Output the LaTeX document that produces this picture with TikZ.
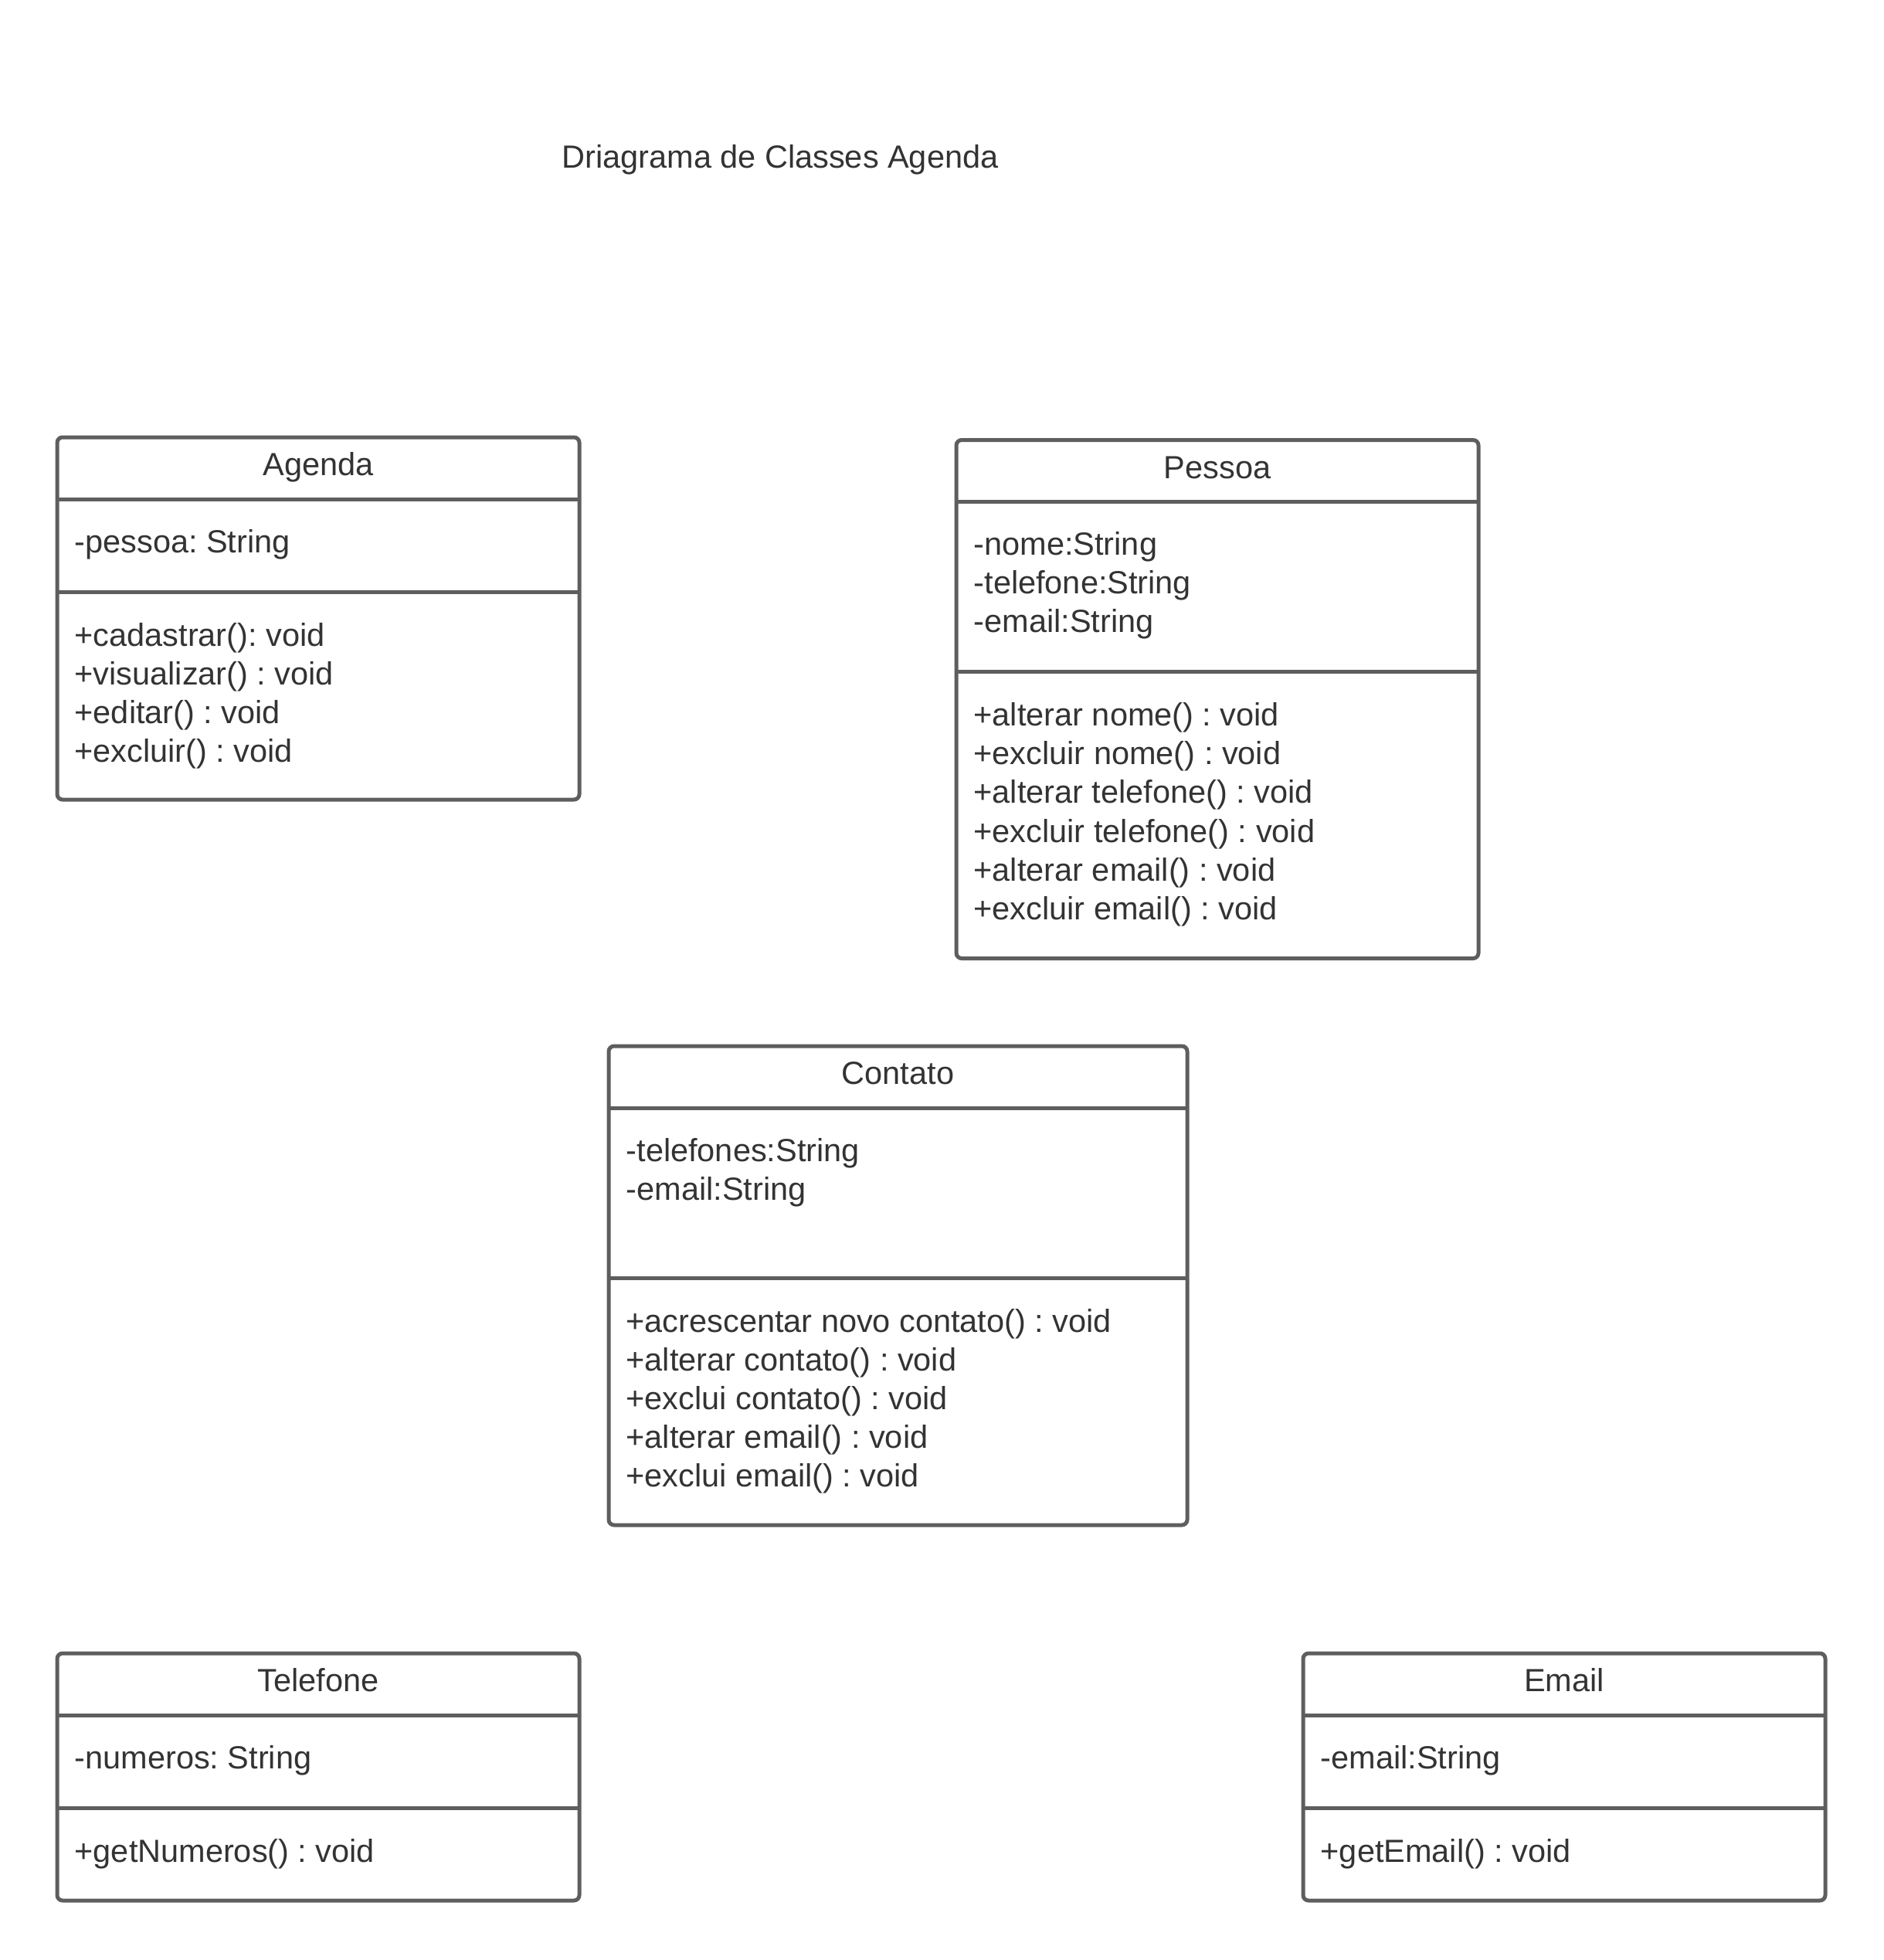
\documentclass[tikz,border=0pt]{standalone}
\usepackage{fontspec}
\setmainfont{Liberation Sans}
\usepackage{xcolor}
\usepackage{tikz}
\usetikzlibrary{shapes,positioning}

\definecolor{umlline}{HTML}{5E5E5E}
\definecolor{umltext}{HTML}{333333}
\frenchspacing

\begin{document}
\begin{tikzpicture}[
    classbox/.style={rectangle, draw=umlline, line width=0.05cm, rounded corners=0.07cm, inner sep=0pt, outer sep=0pt, anchor=north west, minimum width=6.76cm},
    divider/.style={draw=umlline, line width=0.05cm},
    classname/.style={anchor=north, inner sep=0pt, text=umltext, font=\fontsize{11.8}{14.25}\selectfont},
    member/.style={align=left, inner sep=0pt, text=umltext, font=\fontsize{11.8}{14.25}\selectfont},
    title/.style={anchor=north, inner sep=0pt, text=umltext, font=\fontsize{11.8}{14.25}\selectfont}
]
    \path[fill=white, use as bounding box] (0,0) rectangle (24.38,-25.37);

    % Title
    \node[title] (title) at (10.10,-1.815) {\strut Driagrama de Classes Agenda};

    % Class boxes
    \node[classbox, minimum height=4.69cm] (agenda) at (0.74,-5.66) {};
    \node[classbox, minimum height=6.71cm] (pessoa) at (12.38,-5.695) {};
    \node[classbox, minimum width=7.49cm, minimum height=6.20cm] (contato) at (7.88,-13.54) {};
    \node[classbox, minimum height=3.20cm] (telefone) at (0.74,-21.40) {};
    \node[classbox, minimum height=3.20cm] (email) at (16.87,-21.40) {};

    % Compartment lines
    \path[divider] ([yshift=-0.80cm]agenda.north west) -- ([yshift=-0.80cm]agenda.north east);
    \path[divider] ([yshift=-2.00cm]agenda.north west) -- ([yshift=-2.00cm]agenda.north east);
    \path[divider] ([yshift=-0.80cm]pessoa.north west) -- ([yshift=-0.80cm]pessoa.north east);
    \path[divider] ([yshift=-3.00cm]pessoa.north west) -- ([yshift=-3.00cm]pessoa.north east);
    \path[divider] ([yshift=-0.80cm]contato.north west) -- ([yshift=-0.80cm]contato.north east);
    \path[divider] ([yshift=-3.00cm]contato.north west) -- ([yshift=-3.00cm]contato.north east);
    \path[divider] ([yshift=-0.80cm]telefone.north west) -- ([yshift=-0.80cm]telefone.north east);
    \path[divider] ([yshift=-2.00cm]telefone.north west) -- ([yshift=-2.00cm]telefone.north east);
    \path[divider] ([yshift=-0.80cm]email.north west) -- ([yshift=-0.80cm]email.north east);
    \path[divider] ([yshift=-2.00cm]email.north west) -- ([yshift=-2.00cm]email.north east);

    % Class names
    \node[classname, below=0.14cm of agenda.north] (agenda-name) {\strut Agenda};
    \node[classname, below=0.14cm of pessoa.north] (pessoa-name) {\strut Pessoa};
    \node[classname, below=0.14cm of contato.north] (contato-name) {\strut Contato};
    \node[classname, below=0.14cm of telefone.north] (telefone-name) {\strut Telefone};
    \node[classname, below=0.14cm of email.north] (email-name) {\strut Email};

    % Attributes
    \node[member, below right=1.135cm and 0.22cm of agenda.north west] (agenda-attr) {\strut -pessoa: String};
    \node[member, below right=1.135cm and 0.22cm of pessoa.north west] (pessoa-attr) {\strut -nome:String\\-telefone:String\\-email:String};
    \node[member, below right=1.135cm and 0.22cm of contato.north west] (contato-attr) {\strut -telefones:String\\-email:String};
    \node[member, below right=1.135cm and 0.22cm of telefone.north west] (telefone-attr) {\strut -numeros: String};
    \node[member, below right=1.135cm and 0.22cm of email.north west] (email-attr) {\strut -email:String};

    % Operations
    \node[member, below right=2.345cm and 0.22cm of agenda.north west] (agenda-ops) {\strut +cadastrar(): void\\+visualizar() : void\\+editar() : void\\+excluir() : void};
    \node[member, below right=3.345cm and 0.22cm of pessoa.north west] (pessoa-ops) {\strut +alterar nome() : void\\+excluir nome() : void\\+alterar telefone() : void\\+excluir telefone() : void\\+alterar email() : void\\+excluir email() : void};
    \node[member, below right=3.345cm and 0.22cm of contato.north west] (contato-ops) {\strut +acrescentar novo contato() : void\\+alterar contato() : void\\+exclui contato() : void\\+alterar email() : void\\+exclui email() : void};
    \node[member, below right=2.345cm and 0.22cm of telefone.north west] (telefone-ops) {\strut +getNumeros() : void};
    \node[member, below right=2.345cm and 0.22cm of email.north west] (email-ops) {\strut +getEmail() : void};
\end{tikzpicture}
\end{document}
